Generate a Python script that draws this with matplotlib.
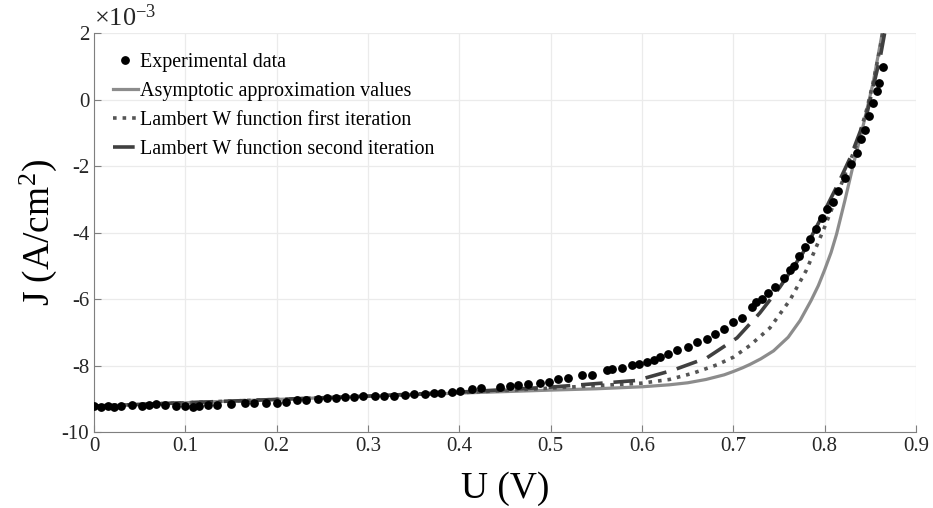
import numpy as np
import matplotlib
matplotlib.use("Agg")
import matplotlib.pyplot as plt

plt.rcParams["font.family"] = ["Liberation Serif", "DejaVu Serif"]
plt.rcParams["mathtext.fontset"] = "custom"
plt.rcParams["mathtext.rm"] = "Liberation Serif"
plt.rcParams["mathtext.it"] = "Liberation Serif:italic"
plt.rcParams["axes.unicode_minus"] = False

# experimental points (U in V, J in mA/cm^2)
exp_u = [0.000, 0.008, 0.015, 0.022, 0.030, 0.042, 0.052, 0.060, 0.068, 0.078,
         0.090, 0.100, 0.108, 0.115, 0.125, 0.135, 0.150, 0.165, 0.175, 0.188,
         0.200, 0.210, 0.222, 0.232, 0.245, 0.255, 0.265, 0.275, 0.285, 0.295,
         0.308, 0.318, 0.328, 0.340, 0.350, 0.362, 0.372, 0.380, 0.392, 0.401,
         0.414, 0.424, 0.444, 0.455, 0.464, 0.475, 0.488, 0.498, 0.508, 0.519,
         0.534, 0.545, 0.562, 0.567, 0.578, 0.589, 0.597, 0.605, 0.613, 0.620,
         0.628, 0.638, 0.650, 0.660, 0.671, 0.680, 0.690, 0.700, 0.710, 0.720,
         0.725, 0.731, 0.738, 0.746, 0.755, 0.762, 0.766, 0.772, 0.778, 0.784,
         0.790, 0.797, 0.803, 0.809, 0.815, 0.822, 0.829, 0.835, 0.840, 0.844,
         0.849, 0.853, 0.857, 0.860, 0.864]
exp_j = [-9.22, -9.25, -9.22, -9.24, -9.22, -9.20, -9.22, -9.18, -9.17, -9.18,
         -9.22, -9.23, -9.24, -9.22, -9.20, -9.18, -9.15, -9.14, -9.12, -9.14,
         -9.12, -9.10, -9.05, -9.03, -9.00, -8.99, -8.98, -8.95, -8.94, -8.93,
         -8.93, -8.92, -8.91, -8.88, -8.87, -8.85, -8.83, -8.82, -8.79, -8.77,
         -8.71, -8.68, -8.65, -8.62, -8.59, -8.56, -8.53, -8.50, -8.40, -8.38,
         -8.29, -8.29, -8.14, -8.10, -8.08, -7.98, -7.95, -7.90, -7.82, -7.74,
         -7.65, -7.53, -7.44, -7.29, -7.20, -7.05, -6.90, -6.69, -6.57, -6.24,
         -6.10, -6.00, -5.82, -5.64, -5.37, -5.12, -5.00, -4.70, -4.45, -4.20,
         -3.90, -3.55, -3.30, -3.08, -2.75, -2.35, -1.95, -1.60, -1.20, -0.92,
         -0.50, -0.10, 0.25, 0.50, 0.98]

# asymptotic approximation
asy_u = [0.0, 0.1, 0.2, 0.3, 0.4, 0.5, 0.55, 0.6, 0.63, 0.65, 0.67, 0.69,
         0.70, 0.71, 0.718, 0.73, 0.744, 0.76, 0.773, 0.785, 0.793, 0.800,
         0.807, 0.813, 0.822, 0.831, 0.842, 0.853, 0.863, 0.866]
asy_j = [-9.22, -9.12, -9.02, -8.92, -8.83, -8.74, -8.70, -8.64, -8.58, -8.52,
         -8.42, -8.28, -8.18, -8.07, -7.97, -7.80, -7.56, -7.15, -6.65, -6.05,
         -5.60, -5.12, -4.60, -4.05, -3.05, -2.00, -0.80, 0.50, 2.00, 2.50]

# Lambert W, first iteration
lw1_u = [0.0, 0.1, 0.2, 0.3, 0.4, 0.5, 0.6, 0.63, 0.656, 0.682, 0.700, 0.718,
         0.740, 0.762, 0.780, 0.799, 0.813, 0.824, 0.835, 0.846, 0.853, 0.861,
         0.866]
lw1_j = [-9.22, -9.12, -9.02, -8.92, -8.82, -8.68, -8.53, -8.42, -8.23, -7.98,
         -7.75, -7.40, -6.87, -6.03, -5.13, -3.90, -2.93, -2.12, -1.35, -0.30,
         0.50, 1.60, 2.40]

# Lambert W, second iteration
lw2_u = [0.0, 0.1, 0.2, 0.3, 0.4, 0.5, 0.594, 0.634, 0.671, 0.704, 0.729, 0.751,
         0.776, 0.795, 0.813, 0.828, 0.846, 0.861, 0.867]
lw2_j = [-9.22, -9.12, -9.02, -8.92, -8.80, -8.65, -8.45, -8.14, -7.77, -7.17,
         -6.42, -5.64, -4.62, -3.62, -2.63, -1.75, -0.45, 1.30, 2.20]

yticks = [-10, -8, -6, -4, -2, 0, 2]
xticks = [0, 0.1, 0.2, 0.3, 0.4, 0.5, 0.6, 0.7, 0.8, 0.9]

fig = plt.figure(figsize=(9.33, 5.08), dpi=100)
ax = fig.add_axes([0.1008, 0.1496, 0.881, 0.7854])

ax.plot(exp_u, np.array(exp_j) * 1e-3, "o", color="black", markersize=5.3,
        label="Experimental data", zorder=3)
ax.plot(asy_u, np.array(asy_j) * 1e-3, "-", color="#8c8c8c", lw=2.3,
        label="Asymptotic approximation values", zorder=2)
ax.plot(lw1_u, np.array(lw1_j) * 1e-3, ":", color="#555555", lw=2.6,
        label="Lambert W function first iteration", zorder=2)
ax.plot(lw2_u, np.array(lw2_j) * 1e-3, "--", color="#404040", lw=2.6,
        dashes=(6, 3), label="Lambert W function second iteration", zorder=2)

ax.set_xlim(0, 0.9)
ax.set_ylim(-10e-3, 2e-3)
ax.set_xticks(xticks)
ax.set_xticklabels([f"{v:g}" for v in xticks])
ax.set_yticks([v * 1e-3 for v in yticks])
ax.set_yticklabels([str(v) for v in yticks])
ax.text(0.0, 1.005, r"$\times$10$^{-3}$", transform=ax.transAxes,
        fontsize=19, ha="left", va="bottom", color="#262626")

ax.grid(True, color="#ebebeb", lw=0.9)
ax.set_axisbelow(True)
for side in ["top", "right"]:
    ax.spines[side].set_visible(False)
for side in ["left", "bottom"]:
    ax.spines[side].set_color("#7f7f7f")
ax.tick_params(direction="in", length=5, color="#7f7f7f", labelsize=15,
               labelcolor="#262626")

ax.set_xlabel("U (V)", fontsize=27, labelpad=11)
ax.set_ylabel("J (A/cm$^2$)", fontsize=27, labelpad=2)

ax.legend(loc="upper left", frameon=False, fontsize=14.4, handlelength=1.25,
          handletextpad=0.12, labelspacing=0.5, borderaxespad=0.0,
          borderpad=0.0, bbox_to_anchor=(0.023, 0.95))

fig.savefig("out.png", dpi=100)
